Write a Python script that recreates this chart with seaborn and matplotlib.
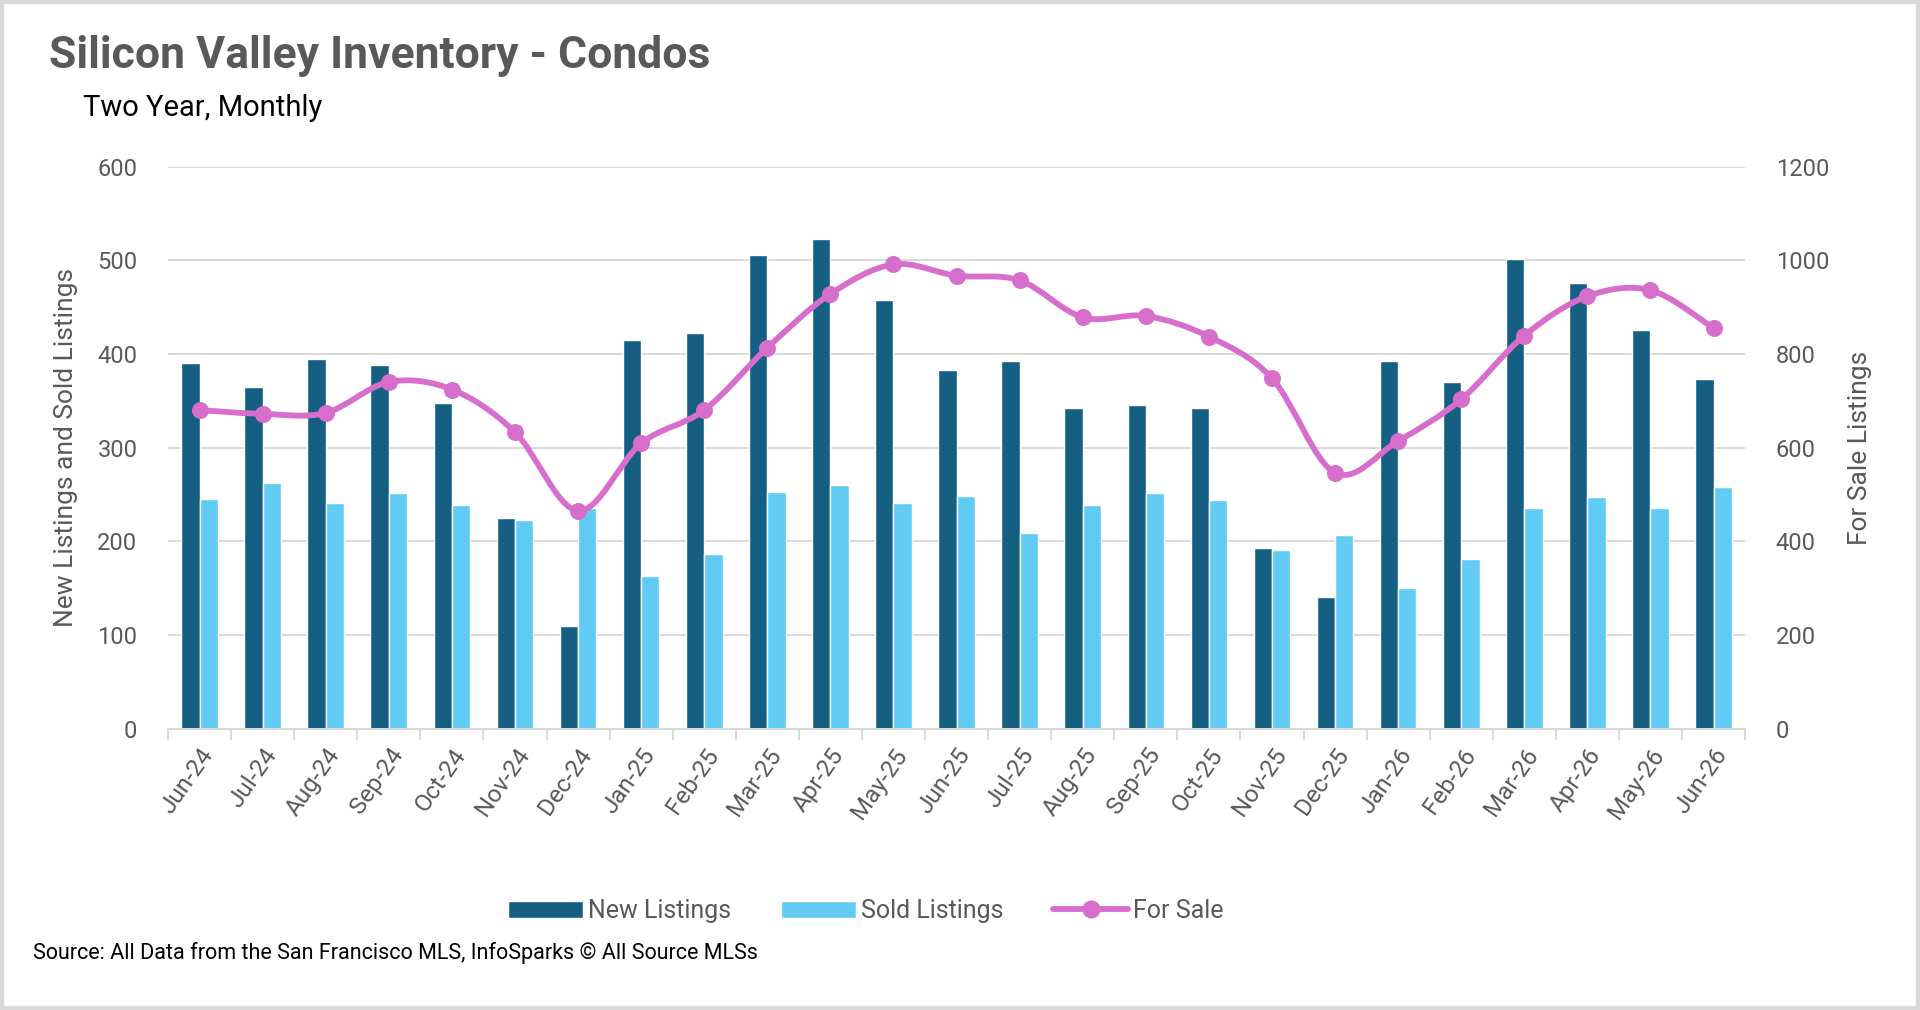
import numpy as np
import pandas as pd
import matplotlib
matplotlib.use("Agg")
import matplotlib.pyplot as plt
import seaborn as sns
from matplotlib.path import Path
from matplotlib.patches import PathPatch, Patch, Rectangle
from matplotlib.lines import Line2D

MONTHS = [
    "Jun-24", "Jul-24", "Aug-24", "Sep-24", "Oct-24", "Nov-24", "Dec-24",
    "Jan-25", "Feb-25", "Mar-25", "Apr-25", "May-25", "Jun-25", "Jul-25",
    "Aug-25", "Sep-25", "Oct-25", "Nov-25", "Dec-25", "Jan-26", "Feb-26",
    "Mar-26", "Apr-26", "May-26", "Jun-26",
]
NEW_LISTINGS = [390, 365, 395, 388, 348, 225, 110, 415, 422, 506, 523, 458, 383,
                392, 342, 345, 342, 193, 140, 392, 370, 501, 476, 426, 373]
SOLD_LISTINGS = [245, 262, 241, 252, 239, 223, 235, 163, 186, 253, 260, 241, 248,
                 209, 239, 251, 244, 191, 207, 150, 181, 236, 247, 236, 258]
FOR_SALE = [680, 672, 674, 740, 724, 633, 465, 609, 680, 813, 928, 991, 967,
            957, 878, 881, 837, 748, 546, 614, 703, 839, 923, 936, 855]

LEFT_TICKS = [0, 100, 200, 300, 400, 500, 600]
RIGHT_TICKS = [0, 200, 400, 600, 800, 1000, 1200]

C_NEW = "#156082"
C_SOLD = "#61CBF3"
C_SALE = "#D86ECC"
GREY_TXT = "#595959"
GRID = "#D9D9D9"
FONT = ["Roboto", "DejaVu Sans"]

sns.set_theme(style="white")
plt.rcParams["font.family"] = FONT


def smooth_path(xs, ys):
    # excel-like smoothed line: bezier segments with catmull-rom control points
    pts = np.column_stack([xs, ys]).astype(float)
    n = len(pts)
    verts = [pts[0]]
    codes = [Path.MOVETO]
    for i in range(n - 1):
        p0 = pts[i - 1] if i > 0 else pts[i]
        p1, p2 = pts[i], pts[i + 1]
        p3 = pts[i + 2] if i + 2 < n else pts[i + 1]
        verts += [p1 + (p2 - p0) / 6, p2 - (p3 - p1) / 6, p2]
        codes += [Path.CURVE4] * 3
    return Path(verts, codes)


df = pd.DataFrame({
    "month": MONTHS * 2,
    "value": NEW_LISTINGS + SOLD_LISTINGS,
    "series": ["New Listings"] * len(MONTHS) + ["Sold Listings"] * len(MONTHS),
})

fig = plt.figure(figsize=(19.2, 10.1), dpi=100)
ax = fig.add_axes([0.0875, 0.2786, 0.8214, 0.5565])

sns.barplot(data=df, x="month", y="value", hue="series", order=MONTHS,
            hue_order=["New Listings", "Sold Listings"],
            palette=[C_NEW, C_SOLD], width=0.58, gap=0, saturation=1,
            ax=ax, legend=False)

ax.set_ylim(0, 600)
ax.set_xlim(-0.5, len(MONTHS) - 0.5)
ax.set_yticks(LEFT_TICKS)
ax.set_yticklabels([str(t) for t in LEFT_TICKS], fontsize=17, color=GREY_TXT)
ax.grid(axis="y", color=GRID, linewidth=1.4)
ax.set_axisbelow(True)
for s in ["top", "left", "right"]:
    ax.spines[s].set_visible(False)
ax.spines["bottom"].set_color(GRID)
ax.spines["bottom"].set_linewidth(1.4)
ax.set_xlabel("")
ax.set_ylabel("New Listings and Sold Listings", fontsize=19, color=GREY_TXT, labelpad=14)
ax.tick_params(axis="y", length=0, pad=22)

# category boundary ticks
ax.set_xticks(np.arange(-0.5, len(MONTHS), 1.0), minor=True)
ax.tick_params(axis="x", which="minor", length=8, color=GRID, width=1.4, bottom=True)
ax.set_xticks(range(len(MONTHS)))
ax.set_xticklabels(MONTHS, rotation=55, ha="right", rotation_mode="anchor",
                   fontsize=17.5, color=GREY_TXT)
ax.tick_params(axis="x", which="major", length=0, pad=11)

ax2 = ax.twinx()
ax2.set_ylim(0, 1200)
ax2.set_yticks(RIGHT_TICKS)
ax2.set_yticklabels([str(t) for t in RIGHT_TICKS], fontsize=17, color=GREY_TXT)
ax2.tick_params(axis="y", length=0, pad=22)
for s in ["top", "left", "right", "bottom"]:
    ax2.spines[s].set_visible(False)
ax2.add_patch(PathPatch(smooth_path(range(len(MONTHS)), FOR_SALE), facecolor="none",
                        edgecolor=C_SALE, linewidth=4.2, capstyle="round", zorder=3))
sns.scatterplot(x=list(range(len(MONTHS))), y=FOR_SALE, color=C_SALE, s=150,
                edgecolor=C_SALE, linewidth=0, ax=ax2, zorder=4)
ax2.set_ylabel("For Sale Listings", fontsize=19, color=GREY_TXT, labelpad=14)
ax2.set_xlim(-0.5, len(MONTHS) - 0.5)

handles = [
    Patch(facecolor=C_NEW, label="New Listings"),
    Patch(facecolor=C_SOLD, label="Sold Listings"),
    Line2D([0], [0], color=C_SALE, lw=4.2, marker="o", markersize=12, label="For Sale"),
]
fig.legend(handles=handles, loc="center", bbox_to_anchor=(0.451, 0.098), ncol=3,
           frameon=False, fontsize=18, handlelength=3.0, handleheight=0.7,
           columnspacing=2.0, handletextpad=0.2, labelcolor=GREY_TXT)

fig.text(0.0255, 0.945, "Silicon Valley Inventory - Condos", fontsize=32,
         fontweight="bold", color=GREY_TXT, va="center", ha="left")
fig.text(0.0432, 0.893, "Two Year, Monthly", fontsize=21, color="black",
         va="center", ha="left")
fig.text(0.017, 0.0565, "Source: All Data from the San Francisco MLS, InfoSparks \u00a9 All Source MLSs",
         fontsize=15.5, color="black", va="center", ha="left")

fig.patches.append(Rectangle((0, 0), 1, 1, transform=fig.transFigure, fill=False,
                             edgecolor="#D9D9D9", linewidth=6))

fig.savefig("out.png", dpi=100)
